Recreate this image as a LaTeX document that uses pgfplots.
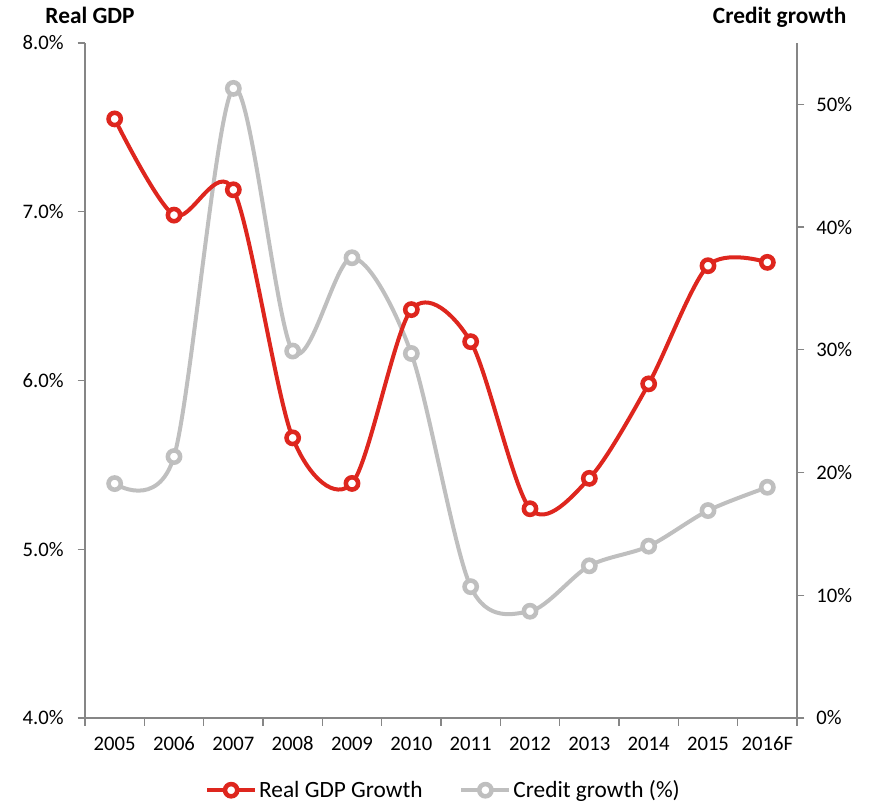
\documentclass[border=0pt]{standalone}
\usepackage{fontspec}
\setmainfont{Carlito}
\usepackage{pgfplots}
\pgfplotsset{compat=1.18}
\definecolor{gdpred}{RGB}{222,38,30}
\definecolor{credgray}{RGB}{191,191,191}
\definecolor{axgray}{RGB}{134,134,134}
\pgfplotsset{
  common/.style={
    scale only axis, width=534pt, height=506.25pt,
    xmin=-0.5, xmax=11.5,
    axis line style={axgray, line width=1pt},
    tick style={axgray, line width=1pt},
    tick align=outside,
    /pgf/number format/assume math mode=true,
    ticklabel style={font=\fontsize{15.5}{18}\selectfont, text=black},
    clip=false,
  },
}
\begin{document}
\begin{tikzpicture}
\path[use as bounding box] (-63.75pt,-65.25pt) rectangle (589.5pt,538.5pt);
\begin{axis}[common,
  axis x line*=bottom, axis y line*=right,
  ymin=0, ymax=55, ytick={0,10,20,30,40,50},
  yticklabel={\pgfmathprintnumber{\tick}\%},
  yticklabel style={xshift=5.5pt},
  xtick={0,...,11},
  xticklabels={2005,2006,2007,2008,2009,2010,2011,2012,2013,2014,2015,2016F},
  major x tick style={draw=none},
  minor xtick={-0.5,0.5,...,11.5},
  minor x tick style={axgray, line width=1pt},
  minor tick length=6pt,
  major tick length=5.5pt,
  xticklabel style={yshift=-5pt},
]
\addplot[credgray, line width=3pt, smooth, tension=0.5, mark=*, mark size=4.6pt,
  mark options={fill=white, draw=credgray, line width=3.4pt}]
  coordinates {(0,19.1) (1,21.3) (2,51.3) (3,29.9) (4,37.5) (5,29.7) (6,10.7) (7,8.7) (8,12.4) (9,14.0) (10,16.9) (11,18.8)};
\end{axis}
\begin{axis}[common,
  hide x axis, axis y line*=left,
  ymin=4, ymax=8, ytick={4,5,6,7,8},
  yticklabel={\pgfmathprintnumber[fixed,fixed zerofill,precision=1]{\tick}\%},
  major tick length=5.5pt,
  yticklabel style={xshift=-7pt},
  legend columns=2,
  legend style={draw=none, fill=none, at={(0.5035,-0.107)}, anchor=center,
    font=\fontsize{17.5}{20}\selectfont,
    /tikz/every odd column/.append style={column sep=0pt},
    /tikz/every even column/.append style={column sep=26pt},
    nodes={inner xsep=1.5pt}},
  legend image code/.code={\draw[mark repeat=2,mark phase=2,#1] plot coordinates {(0pt,0pt) (18pt,0pt) (36pt,0pt)};},
]
\addplot[gdpred, line width=3pt, smooth, tension=0.5, mark=*, mark size=4.6pt,
  mark options={fill=white, draw=gdpred, line width=3.4pt}]
  coordinates {(0,7.55) (1,6.98) (2,7.13) (3,5.66) (4,5.39) (5,6.42) (6,6.23) (7,5.24) (8,5.42) (9,5.98) (10,6.68) (11,6.70)};
\addlegendentry{Real GDP Growth}
\addlegendimage{credgray, line width=3pt, mark=*, mark size=4.6pt, mark options={fill=white, draw=credgray, line width=3.4pt}}
\addlegendentry{Credit growth (\%)}
\end{axis}
\node[font=\bfseries\fontsize{17.5}{20}\selectfont] at (3.75pt,527pt) {Real GDP};
\node[font=\bfseries\fontsize{17.5}{20}\selectfont] at (521pt,525.5pt) {Credit growth};
\end{tikzpicture}
\end{document}
